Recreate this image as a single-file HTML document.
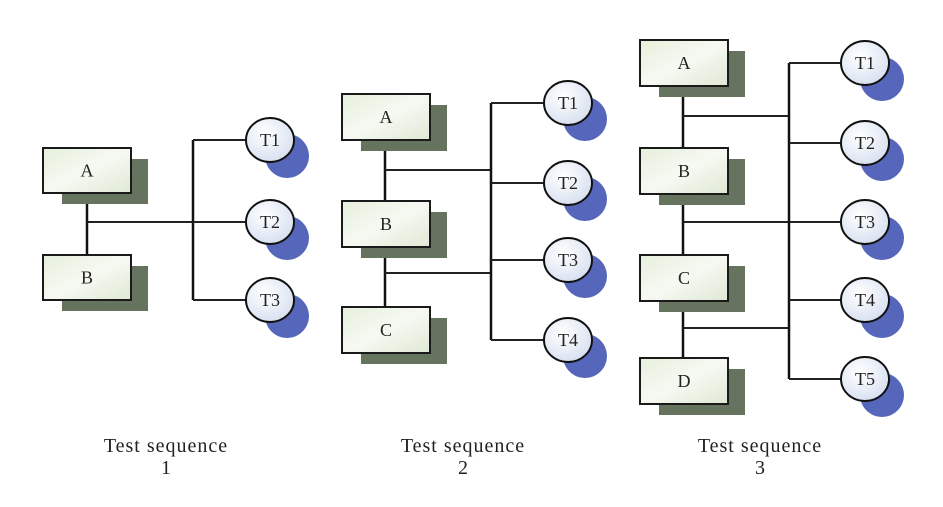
<!DOCTYPE html>
<html><head><meta charset="utf-8"><style>
html,body{margin:0;padding:0;background:#fff;}
svg{display:block;}
text{font-family:"Liberation Serif",serif;fill:#222;}
</style></head><body>
<svg id="d" width="943" height="507" viewBox="0 0 943 507" xmlns="http://www.w3.org/2000/svg">
<defs>
<linearGradient id="bx" x1="0" y1="0" x2="1" y2="1"><stop offset="0" stop-color="#e6efdc"/><stop offset="0.5" stop-color="#f6f9f2"/><stop offset="1" stop-color="#dfe8d4"/></linearGradient>
<radialGradient id="ci" cx="0.4" cy="0.35" r="0.7"><stop offset="0" stop-color="#ffffff"/><stop offset="1" stop-color="#d6dff0"/></radialGradient>
</defs>
</svg>
<script>
const groupLabels = ["1","2","3"];
const groupBoxes = [["A","B"],["A","B","C"],["A","B","C","D"]];
const groupTests = [["T1","T2","T3"],["T1","T2","T3","T4"],["T1","T2","T3","T4","T5"]];
// layout geometry per group
const G = [
 {bx:43,bw:88,bh:45,boxY:[148,255],trunk:87,hY:[222],bus:193,cx:270,tY:[140,222,300],lx:166},
 {bx:342,bw:88,bh:46,boxY:[94,201,307],trunk:385,hY:[170,273],bus:491,cx:568,tY:[103,183,260,340],lx:463},
 {bx:640,bw:88,bh:46,boxY:[40,148,255,358],trunk:683,hY:[116,222,328],bus:789,cx:865,tY:[63,143,222,300,379],lx:760}
];
const svg=document.getElementById('d');
const NS='http://www.w3.org/2000/svg';
function mk(tag,attrs,parent){const e=document.createElementNS(NS,tag);for(const k in attrs)e.setAttribute(k,attrs[k]);(parent||svg).appendChild(e);return e;}
groupLabels.forEach((lab,gi)=>{
 const g=G[gi];
 const grp=mk('g',{});
 
 
 const boxes=groupBoxes[gi], tests=groupTests[gi];
 const tr=mk('line',{x1:g.trunk,y1:g.boxY[0]+g.bh,x2:g.trunk,y2:g.boxY[boxes.length-1],stroke:'#111','stroke-width':2.5},grp);
 
 
 g.hY.forEach(y=>{const l=mk('line',{x1:g.trunk,y1:y,x2:g.bus,y2:y,stroke:'#222','stroke-width':2},grp);
  
  });
 const bus=mk('line',{x1:g.bus,y1:g.tY[0],x2:g.bus,y2:g.tY[tests.length-1],stroke:'#111','stroke-width':2.5},grp);
 
 
 tests.forEach((t,i)=>{const y=g.tY[i];
  const l=mk('line',{x1:g.bus,y1:y,x2:g.cx,y2:y,stroke:'#222','stroke-width':2},grp);
  
  });
 boxes.forEach((b,i)=>{const y=g.boxY[i];
  const bg=mk('g',{},grp);
  
  
  mk('rect',{x:g.bx+19,y:y+11,width:g.bw-2,height:g.bh,fill:'#66735f'},bg);
  mk('rect',{x:g.bx,y:y,width:g.bw,height:g.bh,fill:'url(#bx)',stroke:'#1a1a1a','stroke-width':2},bg);
  const tx=mk('text',{x:g.bx+g.bw/2,y:y+g.bh/2+6,'text-anchor':'middle','font-size':18},bg);tx.textContent=b;
 });
 tests.forEach((t,i)=>{const y=g.tY[i];
  const cg=mk('g',{},grp);
  
  
  mk('circle',{cx:g.cx+17,cy:y+16,r:22,fill:'#5566bb'},cg);
  mk('ellipse',{cx:g.cx,cy:y,rx:24,ry:22,fill:'url(#ci)',stroke:'#111','stroke-width':2},cg);
  const tx=mk('text',{x:g.cx,y:y+6,'text-anchor':'middle','font-size':18},cg);tx.textContent=t;
 });
 const t1=mk('text',{x:g.lx,y:452,'text-anchor':'middle','font-size':20,'letter-spacing':1},grp);t1.textContent='Test sequence';
 
 
 const t2=mk('text',{x:g.lx,y:474,'text-anchor':'middle','font-size':20},grp);t2.textContent=lab;
 
 
});
</script>
</body></html>
